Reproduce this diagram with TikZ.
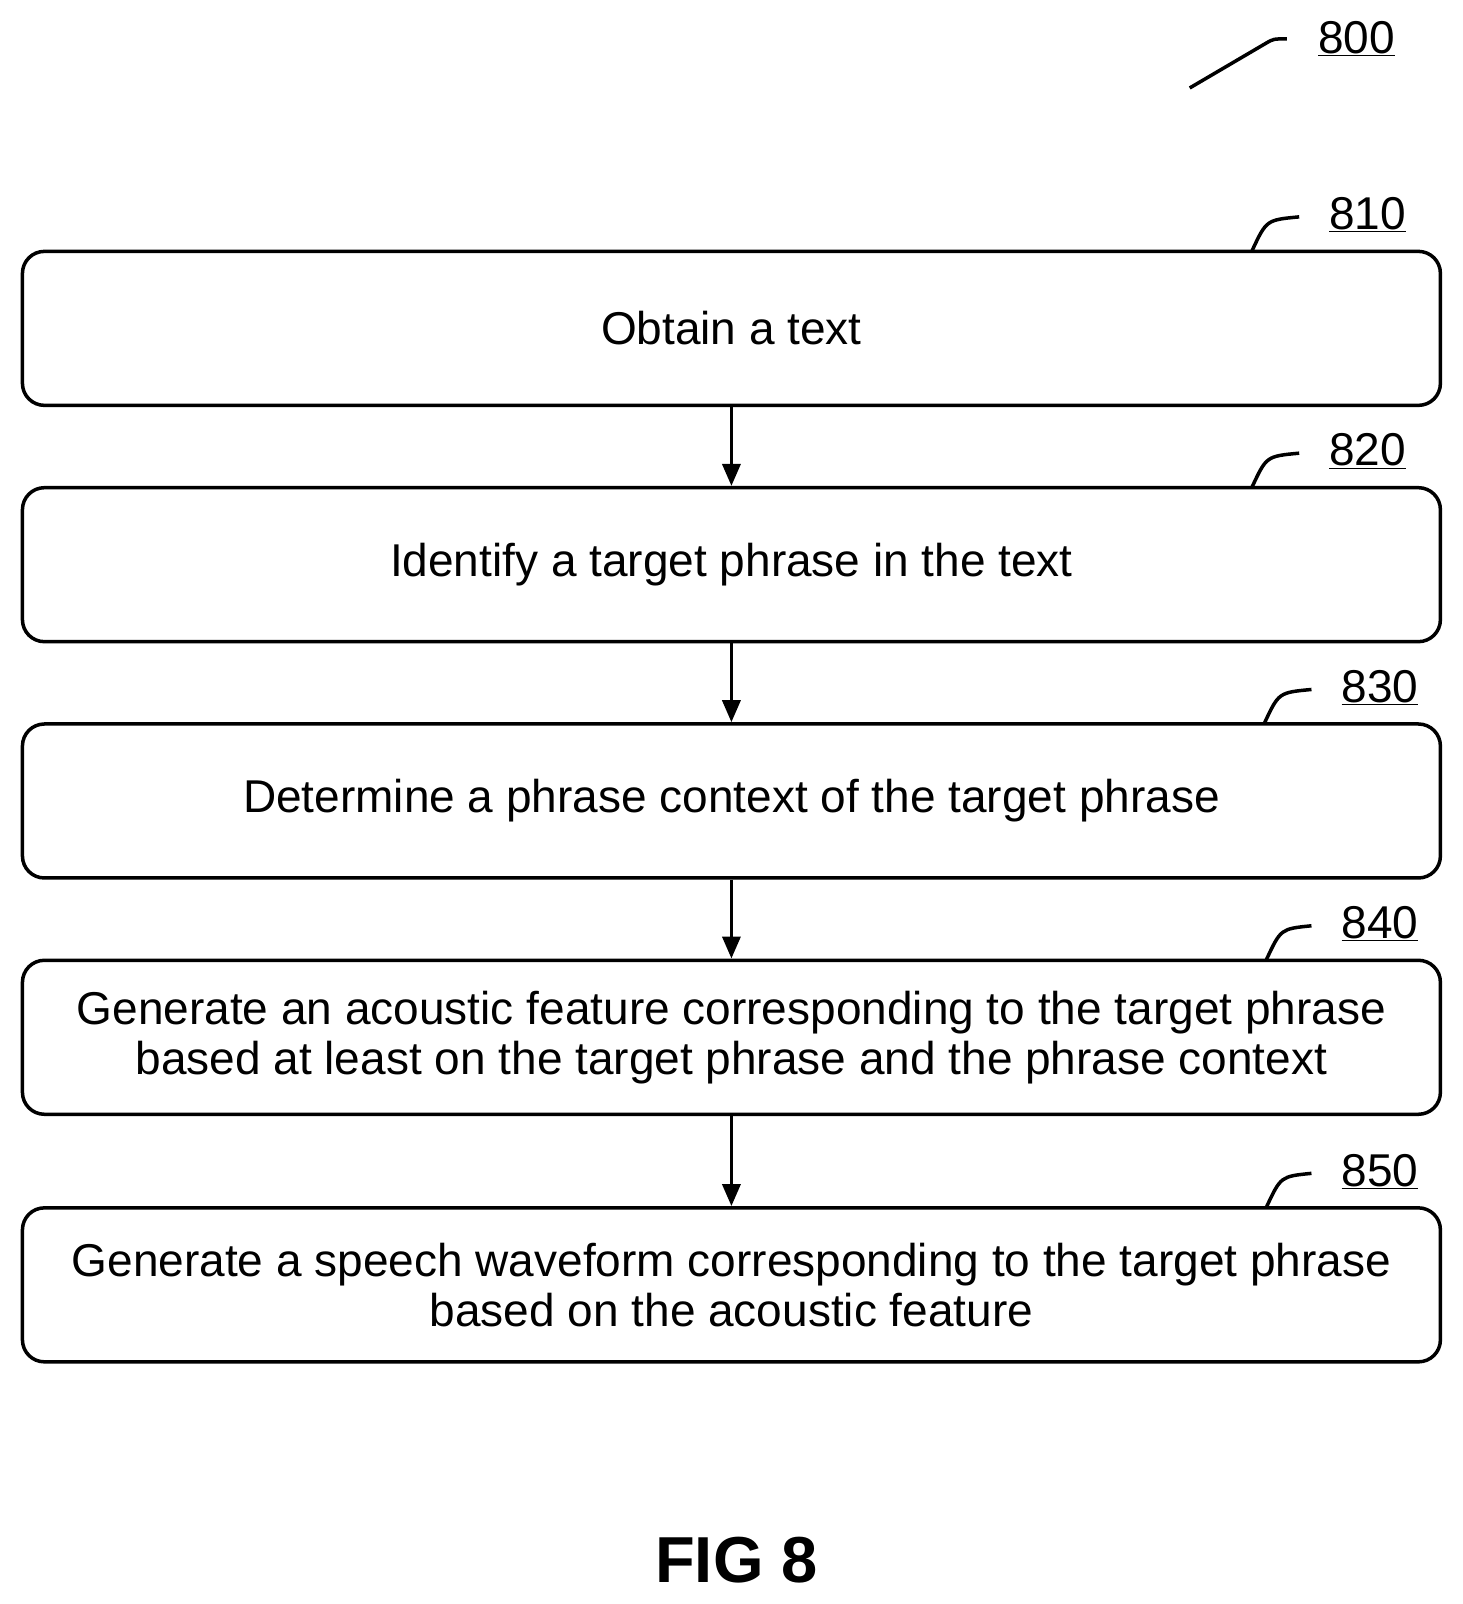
\documentclass[tikz,border=0pt]{standalone}
\usepackage{fontspec}
\setmainfont{Liberation Sans}
\usetikzlibrary{arrows.meta}
\begin{document}
\begin{tikzpicture}[x=1.023pt,y=-1.023pt,
  box/.style={draw,line width=3.5pt,rounded corners=22pt,minimum width=1418pt,minimum height=154pt,align=center,font=\fontsize{46}{50}\selectfont,inner sep=0pt},
  lbl/.style={font=\fontsize{46}{50}\selectfont},
  arr/.style={line width=3.5pt,-{Triangle[length=22pt,width=18pt]}},
  lead/.style={line width=3.5pt}]
\useasboundingbox (0,0) rectangle (1430,1568);
\node[box] (b1) at (715,321) {Obtain a text};
\node[box] (b2) at (715,552) {Identify a target phrase in the text};
\node[box] (b3) at (715,783) {Determine a phrase context of the target phrase};
\node[box] (b4) at (715,1014) {Generate an acoustic feature corresponding to the target phrase\\based at least on the target phrase and the phrase context};
\node[box] (b5) at (715,1256) {Generate a speech waveform corresponding to the target phrase\\based on the acoustic feature};
\draw[arr] (b1) -- (b2);
\draw[arr] (b2) -- (b3);
\draw[arr] (b3) -- (b4);
\draw[arr] (b4) -- (b5);
\node[lbl] (l0) at (1326,38) {\underline{800}};
\node[lbl] (l1) at (1337,210) {\underline{810}};
\node[lbl] (l2) at (1337,441) {\underline{820}};
\node[lbl] (l3) at (1349,672) {\underline{830}};
\node[lbl] (l4) at (1349,903) {\underline{840}};
\node[lbl] (l5) at (1349,1145) {\underline{850}};
\coordinate (c0) at (1163,86);
\draw[lead] (c0) -- (1238,42) .. controls (1245,38) .. (1258,38);
\draw[lead] (1224,245) .. controls (1238,215) .. (1270,212);
\draw[lead] (1224,476) .. controls (1238,446) .. (1270,443);
\draw[lead] (1236,707) .. controls (1250,677) .. (1282,674);
\draw[lead] (1238,938) .. controls (1252,908) .. (1282,905);
\draw[lead] (1238,1180) .. controls (1252,1150) .. (1282,1147);
\node[font=\bfseries\fontsize{65}{72}\selectfont] (fig) at (720,1525) {FIG 8};
\end{tikzpicture}
\end{document}
